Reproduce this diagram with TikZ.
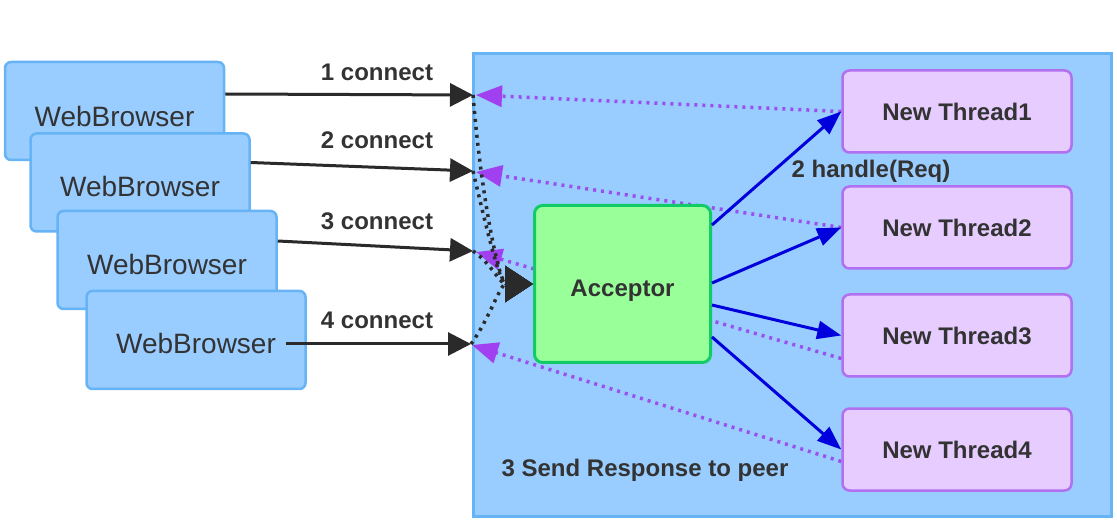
\documentclass[tikz,border=0pt]{standalone}
\usepackage{fontspec}
\setmainfont{Liberation Sans}
\usetikzlibrary{arrows.meta}
\definecolor{boxblue}{HTML}{99CCFF}
\definecolor{boxblueline}{HTML}{66B3F5}
\definecolor{accfill}{HTML}{99FF99}
\definecolor{accline}{HTML}{11CC66}
\definecolor{thrfill}{HTML}{E6CCFF}
\definecolor{thrline}{HTML}{B070F0}
\definecolor{txt}{HTML}{333333}
\definecolor{arrblue}{HTML}{0000DD}
\definecolor{purp}{HTML}{A040F0}
\definecolor{purpdot}{HTML}{9950EE}
\definecolor{blk}{HTML}{2A2A2A}
\newcommand{\lowered}[2]{\smash{\raisebox{-#1}{#2}}}
\tikzset{
  browser/.style={draw=boxblueline, fill=boxblue, line width=2.5pt, rounded corners=6pt,
    minimum width=219pt, minimum height=98pt, inner sep=0pt, text=txt,
    font=\fontsize{28}{30}\selectfont},
  thread/.style={draw=thrline, fill=thrfill, line width=2.5pt, rounded corners=7pt,
    minimum width=229pt, minimum height=82pt, inner sep=0pt, text=txt,
    font=\bfseries\fontsize{24}{26}\selectfont},
  accbox/.style={draw=accline, fill=accfill, line width=3pt, rounded corners=8pt,
    minimum width=176pt, minimum height=157pt, inner sep=0pt, text=txt,
    font=\bfseries\fontsize{24}{26}\selectfont},
  lbl/.style={text=txt, inner sep=0pt, font=\bfseries\fontsize{24}{26}\selectfont},
  conn/.style={draw=blk, line width=3pt, -{Triangle[length=23pt,width=23pt]}},
  blkdot/.style={draw=blk, line width=3.5pt, dash pattern=on 3pt off 5pt,
    -{Triangle[length=28pt,width=36pt]}},
  purpdotted/.style={draw=purpdot, line width=3.5pt, dash pattern=on 3pt off 5pt,
    -{Triangle[length=26pt,width=21pt,color=purp]}},
  handle/.style={draw=arrblue, line width=3pt, -{Triangle[length=24pt,width=18pt]}}
}
\begin{document}
\begin{tikzpicture}[x=1pt,y=-1pt]
\useasboundingbox (0,0) rectangle (1117,529);
\fill[white] (0,0) rectangle (1117,529);
% container
\node[draw=boxblueline, fill=boxblue, line width=3pt, minimum width=638pt, minimum height=463pt, inner sep=0pt] (srv) at (792.5,285) {};
% browsers
\node[browser] (B1) at (114.5,111) {\lowered{16pt}{WebBrowser}};
\node[browser] (B2) at (140,182.5) {\lowered{14.5pt}{WebBrowser}};
\node[browser] (B3) at (167,260) {\lowered{15pt}{WebBrowser}};
\node[browser] (B4) at (196,340) {\lowered{14pt}{WebBrowser}};
% connection points on server edge
\coordinate (c1) at (473,95);
\coordinate (c2) at (473,171);
\coordinate (c3) at (473,251);
\coordinate (c4) at (471,344);
\coordinate (p1) at (476,95);
\coordinate (p2) at (476,172);
\coordinate (p3) at (476,252);
\coordinate (p4) at (472,345);
% connect arrows
\draw[conn] ([yshift=17pt]B1.east) -- (c1);
\draw[conn] ([yshift=20pt]B2.east) -- (c2);
\draw[conn] ([yshift=19pt]B3.east) -- (c3);
\draw[conn] ([xshift=-21pt,yshift=-4pt]B4.east) -- (c4);
\node[lbl] (l1) at (377,72) {1 connect};
\node[lbl] (l2) at (377,140) {2 connect};
\node[lbl] (l3) at (377,221) {3 connect};
\node[lbl] (l4) at (377,320) {4 connect};
% threads
\node[thread] (T1) at (957,111.5) {New Thread1};
\node[thread] (T2) at (957,227.5) {New Thread2};
\node[thread] (T3) at (957,335.5) {New Thread3};
\node[thread] (T4) at (957,449.5) {New Thread4};
% responses (purple dotted)
\draw[purpdotted] (T1.west) -- (p1);
\draw[purpdotted] (T2.west) -- (p2);
\draw[purpdotted] ([yshift=-23pt]T3.west) -- (p3);
\draw[purpdotted] ([yshift=-12pt]T4.west) -- (p4);
% acceptor
\node[accbox] (Acc) at (622.5,284) {\lowered{12.5pt}{Acceptor}};
% dotted black to acceptor
\draw[blkdot] (c1) .. controls (482,205) and (500,284) .. (Acc.west);
\draw[blkdot] (c2) .. controls (488,235) and (500,284) .. (Acc.west);
\draw[blkdot] (c3) .. controls (490,262) and (500,284) .. (Acc.west);
\draw[blkdot] (c4) .. controls (490,318) and (500,284) .. (Acc.west);
% handle arrows
\draw[handle] ([yshift=59pt]Acc.east) -- (T1.west);
\draw[handle] ([yshift=1pt]Acc.east) -- (T2.west);
\draw[handle] ([yshift=-21pt]Acc.east) -- (T3.west);
\draw[handle] ([yshift=-53pt]Acc.east) -- (T4.west);
\node[lbl] (hl) at (871,171) {2 handle(Req)};
\node[lbl] (sl) at (645,470) {3 Send Response to peer};
\end{tikzpicture}
\end{document}
